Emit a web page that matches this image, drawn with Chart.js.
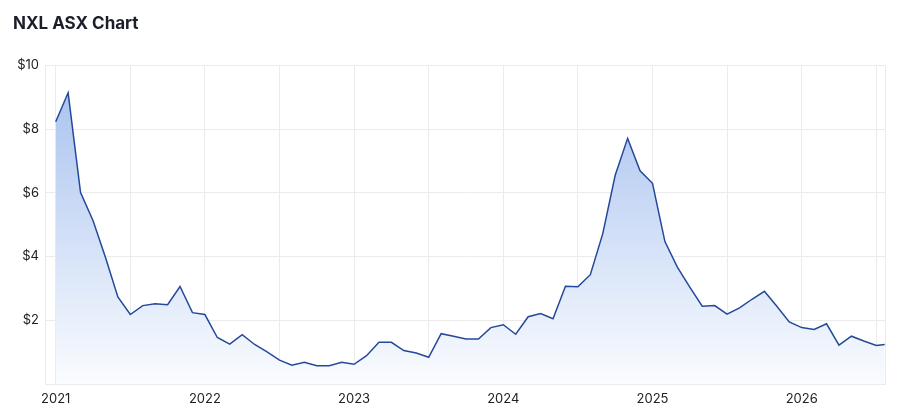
<!DOCTYPE html>
<html lang="en">
<head>
  <meta charset="UTF-8" />
  <title>NXL ASX Chart</title>
  <script src="https://cdn.jsdelivr.net/npm/chart.js"></script>
  <style>
    html, body { margin: 0; padding: 0; background: #fff; }
    #wrap { position: relative; width: 899px; height: 420px; }
  </style>
</head>
<body>
  <div id="wrap"><canvas id="priceChart"></canvas></div>

  <script>
    // Monthly closes, Jan 2021 -> late Jul 2026
    const dates = [
      '2021-01-01', '2021-02-01', '2021-03-01', '2021-04-01', '2021-05-01', '2021-06-01',
      '2021-07-01', '2021-08-01', '2021-09-01', '2021-10-01', '2021-11-01', '2021-12-01',
      '2022-01-01', '2022-02-01', '2022-03-01', '2022-04-01', '2022-05-01', '2022-06-01',
      '2022-07-01', '2022-08-01', '2022-09-01', '2022-10-01', '2022-11-01', '2022-12-01',
      '2023-01-01', '2023-02-01', '2023-03-01', '2023-04-01', '2023-05-01', '2023-06-01',
      '2023-07-01', '2023-08-01', '2023-09-01', '2023-10-01', '2023-11-01', '2023-12-01',
      '2024-01-01', '2024-02-01', '2024-03-01', '2024-04-01', '2024-05-01', '2024-06-01',
      '2024-07-01', '2024-08-01', '2024-09-01', '2024-10-01', '2024-11-01', '2024-12-01',
      '2025-01-01', '2025-02-01', '2025-03-01', '2025-04-01', '2025-05-01', '2025-06-01',
      '2025-07-01', '2025-08-01', '2025-09-01', '2025-10-01', '2025-11-01', '2025-12-01',
      '2026-01-01', '2026-02-01', '2026-03-01', '2026-04-01', '2026-05-01', '2026-06-01',
      '2026-07-01', '2026-07-22'
    ];
    const prices = [
      8.23, 9.14, 6.01, 5.13, 3.98, 2.73, 2.18, 2.46, 2.52, 2.49, 3.06, 2.24,
      2.18, 1.46, 1.25, 1.55, 1.24, 1.01, 0.75, 0.59, 0.68, 0.57, 0.57, 0.68,
      0.62, 0.89, 1.31, 1.31, 1.05, 0.97, 0.84, 1.58, 1.50, 1.41, 1.41, 1.77,
      1.86, 1.56, 2.11, 2.21, 2.05, 3.07, 3.05, 3.43, 4.72, 6.55, 7.71, 6.69,
      6.30, 4.47, 3.67, 3.04, 2.44, 2.46, 2.19, 2.39, 2.66, 2.91, 2.44, 1.95,
      1.77, 1.71, 1.89, 1.22, 1.50, 1.35, 1.21, 1.24
    ];
    const startYear = 2021;
    const yearLabels = ['2021', '2022', '2023', '2024', '2025', '2026'];
    const priceTicks = [2, 4, 6, 8, 10];

    // months since Jan 2021 (fractional for mid-month dates)
    function monthIndex(d) {
      const [y, m, day] = d.split('-').map(Number);
      const dim = new Date(y, m, 0).getDate();
      return (y - startYear) * 12 + (m - 1) + (day - 1) / dim;
    }
    const points = dates.map((d, i) => ({ x: monthIndex(d), y: prices[i] }));

    const font = '"Inter", "Helvetica Neue", Arial, sans-serif';
    const gridColor = '#ebebeb';

    const ctx = document.getElementById('priceChart').getContext('2d');
    new Chart(ctx, {
      type: 'line',
      data: {
        datasets: [{
          data: points,
          borderColor: '#24499a',
          borderWidth: 1.5,
          pointRadius: 0,
          tension: 0,
          fill: 'origin',
          backgroundColor: (c) => {
            const area = c.chart.chartArea;
            if (!area) return 'rgb(190,210,243)';
            const g = c.chart.ctx.createLinearGradient(0, area.top, 0, area.bottom);
            g.addColorStop(0, 'rgb(164,191,238)');
            g.addColorStop(1, 'rgb(250,252,255)');
            return g;
          }
        }]
      },
      options: {
        responsive: true,
        maintainAspectRatio: false,
        animation: false,
        layout: { padding: { left: 13, right: 14, top: 0, bottom: 0 } },
        plugins: {
          legend: { display: false },
          tooltip: { enabled: false },
          title: {
            display: true,
            text: 'NXL ASX Chart',
            align: 'start',
            color: '#1b1f2a',
            font: { family: font, size: 17, weight: 'bold' },
            padding: { top: 14, bottom: 31 }
          }
        },
        scales: {
          x: {
            type: 'linear',
            min: -0.86,
            max: 66.7,
            afterBuildTicks: (s) => {
              s.ticks = [];
              for (let v = 0; v <= 66; v += 6) s.ticks.push({ value: v });
            },
            afterFit: (s) => { s.height = 36; },
            ticks: {
              autoSkip: false,
              maxRotation: 0,
              padding: 7,
              color: '#222',
              font: { family: font, size: 13 },
              callback: (v) => (v % 12 === 0 ? yearLabels[v / 12] : '')
            },
            grid: { color: gridColor, drawTicks: false },
            border: { color: gridColor }
          },
          y: {
            min: 0,
            max: 10,
            afterBuildTicks: (s) => {
              s.ticks = [{ value: 0 }].concat(priceTicks.map(v => ({ value: v })));
            },
            afterFit: (s) => { s.width = 32; },
            ticks: {
              padding: 6,
              color: '#222',
              font: { family: font, size: 13 },
              callback: (v) => (v === 0 ? '' : '$' + v)
            },
            grid: { color: gridColor, drawTicks: false },
            border: { color: gridColor }
          }
        }
      },
      plugins: [{
        // right-hand frame line like the reference
        id: 'rightEdge',
        afterDraw(chart) {
          const { ctx, chartArea: a } = chart;
          ctx.save();
          ctx.strokeStyle = gridColor;
          ctx.lineWidth = 1;
          ctx.beginPath();
          ctx.moveTo(a.right + 0.5, a.top);
          ctx.lineTo(a.right + 0.5, a.bottom);
          ctx.stroke();
          ctx.restore();
        }
      }]
    });
  </script>
</body>
</html>
